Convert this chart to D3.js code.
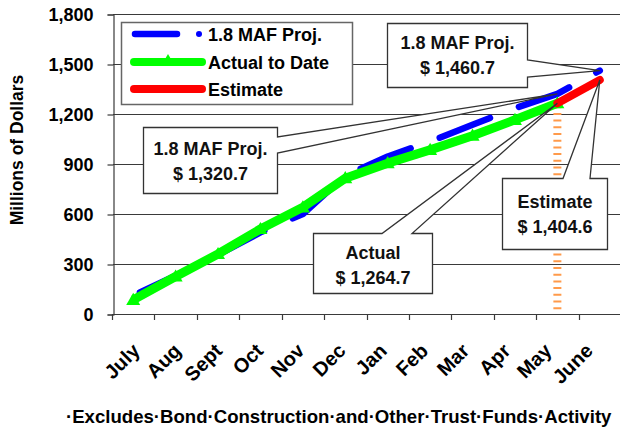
<!DOCTYPE html>
<html>
<head>
<meta charset="utf-8">
<script src="https://cdn.jsdelivr.net/npm/d3@7/dist/d3.min.js"></script>
<style>
  html, body { margin: 0; padding: 0; background: #fff; }
  svg { display: block; font-family: Arial, "Liberation Sans", sans-serif; font-weight: bold; }
</style>
</head>
<body>
<svg id="chart" width="620" height="430"></svg>
<script>
// ---- data ----
const months = ["July","Aug","Sept","Oct","Nov","Dec","Jan","Feb","Mar","Apr","May","June"];
const projValues = [110, 230, 355, 490, 600, 830, 945, 1035, 1135, 1235, 1320.7, 1460.7];
const actualMonths = ["July","Aug","Sept","Oct","Nov","Dec","Jan","Feb","Mar","Apr","May"];
const actualValues = [85, 225, 360, 510, 640, 815, 905, 985, 1070, 1165, 1264.7];
const estimateMonths = ["May","June"];
const estimateValues = [1264.7, 1404.6];
const yTicks = [0, 300, 600, 900, 1200, 1500, 1800];
const legendLabels = ["1.8 MAF Proj.", "Actual to Date", "Estimate"];
const yTitle = "Millions of Dollars";
const footnote = "\u00B7Excludes\u00B7Bond\u00B7Construction\u00B7and\u00B7Other\u00B7Trust\u00B7Funds\u00B7Activity";

const svg = d3.select("#chart");
const x = d3.scaleBand().domain(months).range([112, 621]);
const cx = m => x(m) + x.bandwidth() / 2;
const y = d3.scaleLinear().domain([0, 1800]).range([314, 14]);
// label anchor positions (rotated labels sit on a slightly tighter spacing)
const xLab = d3.scalePoint().domain(months).range([141, 594]);

const BLUE = "#0000ff", GREEN = "#00ff00", RED = "#ff0000", ORANGE = "#ff9a4a";
const GRID = "#3a3a3a";

// gridlines
svg.append("g").selectAll("line").data(yTicks).join("line")
  .attr("x1", 113).attr("x2", 621)
  .attr("y1", d => y(d) + 0.5).attr("y2", d => y(d) + 0.5)
  .attr("stroke", GRID).attr("stroke-width", 1.2);

// y axis
const yAxis = d3.axisLeft(y).tickValues(yTicks).tickSize(6).tickPadding(14)
  .tickFormat(d3.format(","));
const gy = svg.append("g").attr("transform", "translate(113.5,0.5)").call(yAxis);
gy.select(".domain").attr("stroke", GRID).attr("stroke-width", 1.2);
gy.selectAll(".tick line").attr("stroke", GRID).attr("stroke-width", 1.2);
gy.selectAll(".tick text").attr("font-size", 18).attr("font-weight", "bold")
  .attr("font-family", "Arial, 'Liberation Sans', sans-serif").attr("fill", "#000");

// x axis ticks at category boundaries
const xb = d3.scaleLinear().domain([0, months.length]).range([112, 621]);
svg.append("g").selectAll("line").data(d3.range(months.length + 1)).join("line")
  .attr("x1", d => Math.round(xb(d)) + 0.5).attr("x2", d => Math.round(xb(d)) + 0.5)
  .attr("y1", 314).attr("y2", 320).attr("stroke", GRID).attr("stroke-width", 1.2);
svg.append("g").selectAll("text").data(months).join("text")
  .attr("transform", d => `translate(${xLab(d)},${352}) rotate(-45)`)
  .attr("text-anchor", "end").attr("font-size", 20).attr("fill", "#000")
  .text(d => d);

// y title
svg.append("text").attr("transform", "translate(23,150) rotate(-90)")
  .attr("text-anchor", "middle").attr("font-size", 17.5).attr("fill", "#000").text(yTitle);

// orange dashed drop line at May (actual)
svg.append("line")
  .attr("x1", cx("May")).attr("x2", cx("May"))
  .attr("y1", y(actualValues[actualValues.length - 1]) + 3).attr("y2", y(0))
  .attr("stroke", ORANGE).attr("stroke-width", 8).attr("stroke-dasharray", "2 4.7");

// blue projection (drawn from June back to July so pattern ends on a dot)
const projPts = months.map((m, i) => [cx(m), y(projValues[i])]).reverse();
svg.append("path").attr("d", d3.line()(projPts))
  .attr("fill", "none").attr("stroke", BLUE).attr("stroke-width", 6.5)
  .attr("stroke-linecap", "round").attr("stroke-linejoin", "round")
  .attr("stroke-dasharray", "54 31").attr("stroke-dashoffset", 50);

// green actual
const actPts = actualMonths.map((m, i) => [cx(m), y(actualValues[i])]);
svg.append("path").attr("d", d3.line()(actPts))
  .attr("fill", "none").attr("stroke", GREEN).attr("stroke-width", 9)
  .attr("stroke-linejoin", "round");
const tri = d3.symbol().type(d3.symbolTriangle).size(85);
svg.append("g").selectAll("path").data(actPts).join("path")
  .attr("transform", d => `translate(${d[0]},${d[1] + 1})`)
  .attr("d", tri()).attr("fill", GREEN);

// red estimate
const estPts = estimateMonths.map((m, i) => [cx(m), y(estimateValues[i])]);
svg.append("path").attr("d", d3.line()(estPts))
  .attr("fill", "none").attr("stroke", RED).attr("stroke-width", 8)
  .attr("stroke-linecap", "round");

// legend
const lg = svg.append("g");
lg.append("rect").attr("x", 121.5).attr("y", 22.5).attr("width", 231).attr("height", 82)
  .attr("fill", "#fff").attr("stroke", "#666").attr("stroke-width", 1.5);
const rowsY = [34, 62, 89];
lg.append("line").attr("x1", 135).attr("x2", 177).attr("y1", rowsY[0]).attr("y2", rowsY[0])
  .attr("stroke", BLUE).attr("stroke-width", 6.5).attr("stroke-linecap", "round");
lg.append("circle").attr("cx", 199).attr("cy", rowsY[0]).attr("r", 3).attr("fill", BLUE);
lg.append("line").attr("x1", 134).attr("x2", 202).attr("y1", rowsY[1]).attr("y2", rowsY[1])
  .attr("stroke", GREEN).attr("stroke-width", 8).attr("stroke-linecap", "round");
lg.append("path").attr("transform", `translate(168,${rowsY[1]})`).attr("d", tri()).attr("fill", GREEN);
lg.append("line").attr("x1", 134).attr("x2", 202).attr("y1", rowsY[2]).attr("y2", rowsY[2])
  .attr("stroke", RED).attr("stroke-width", 8).attr("stroke-linecap", "round");
lg.selectAll("text").data(legendLabels).join("text")
  .attr("x", 208).attr("y", (d, i) => rowsY[i] + 6.5)
  .attr("font-size", 18).attr("fill", "#000").text(d => d);

// callouts
function callout(box, wedge, target, lines, lineY) {
  const [l, t, r, b] = box;
  let d;
  if (wedge.side === "right") {
    d = `M${l},${t}H${r}V${wedge.a}L${target[0]},${target[1]}L${r},${wedge.b}V${b}H${l}Z`;
  } else { // top
    d = `M${l},${t}H${wedge.a}L${target[0]},${target[1]}L${wedge.b},${t}H${r}V${b}H${l}Z`;
  }
  svg.append("path").attr("d", d).attr("fill", "#fff")
    .attr("stroke", "#333").attr("stroke-width", 1.3).attr("stroke-linejoin", "miter");
  svg.append("g").selectAll("text").data(lines).join("text")
    .attr("x", (l + r) / 2).attr("y", (dd, i) => lineY[i])
    .attr("text-anchor", "middle").attr("font-size", 18).attr("fill", "#111")
    .text(dd => dd);
}
const fmt = v => "$ " + d3.format(",.1f")(v);
const iJune = months.indexOf("June"), iMay = months.indexOf("May");
callout([387.5, 23.5, 527.5, 87.5], {side: "right", a: 60, b: 77},
  [cx("June"), y(projValues[iJune])], ["1.8 MAF Proj.", fmt(projValues[iJune])], [49, 74]);
callout([143.5, 127.5, 277.5, 193.5], {side: "right", a: 137, b: 153},
  [cx("May"), y(projValues[iMay])], ["1.8 MAF Proj.", fmt(projValues[iMay])], [155, 180]);
callout([313.5, 233.5, 432.5, 293.5], {side: "top", a: 382, b: 412},
  [cx("May"), y(actualValues[actualValues.length - 1])], ["Actual", fmt(actualValues[actualValues.length - 1])], [259, 284]);
callout([502.5, 178.5, 607.5, 249.5], {side: "top", a: 563, b: 590},
  [cx("June"), y(estimateValues[1])], ["Estimate", fmt(estimateValues[1])], [208, 233]);

// footnote
svg.append("text").attr("x", 66).attr("y", 423).attr("font-size", 18.6).attr("fill", "#000")
  .text(footnote);
</script>
</body>
</html>
